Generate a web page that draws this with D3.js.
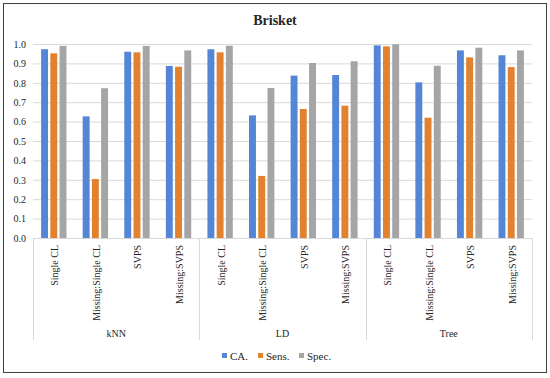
<!DOCTYPE html>
<html>
<head>
<meta charset="utf-8">
<script src="https://cdn.jsdelivr.net/npm/d3@7"></script>
<style>
  body { margin: 0; background: #fff; }
  svg text { font-family: "Liberation Serif", "DejaVu Serif", serif !important; fill: #262626; }
</style>
</head>
<body>
<script>
// data
const groups = ['kNN', 'LD', 'Tree'];
const subCategories = ['Single CL', 'Missing:Single CL', 'SVPS', 'Missing:SVPS'];
const seriesNames = ['CA.', 'Sens.', 'Spec.'];
const caValues   = [0.973, 0.627, 0.960, 0.887, 0.973, 0.632, 0.837, 0.840, 0.993, 0.802, 0.967, 0.942];
const sensValues = [0.952, 0.304, 0.957, 0.883, 0.957, 0.320, 0.665, 0.682, 0.988, 0.620, 0.931, 0.881];
const specValues = [0.990, 0.772, 0.990, 0.967, 0.991, 0.773, 0.902, 0.911, 0.998, 0.888, 0.981, 0.967];
const yTicks = [0, 0.1, 0.2, 0.3, 0.4, 0.5, 0.6, 0.7, 0.8, 0.9, 1.0];

const colors = ['#5585d5', '#e2822f', '#a5a5a5'];

const SCREEN = { width: 550, height: 378, left: 33, right: 532, top: 44, bottom: 238 };

const svg = d3.select('body').append('svg')
    .attr('width', SCREEN.width)
    .attr('height', SCREEN.height);

// outer frame
svg.append('rect')
    .attr('x', 3.5).attr('y', 3.5)
    .attr('width', 543).attr('height', 369)
    .attr('fill', 'none')
    .attr('stroke', '#404040')
    .attr('stroke-width', 1);

svg.append('text')
    .attr('x', 275)
    .attr('y', 25)
    .attr('text-anchor', 'middle')
    .style('font-size', '14px')
    .style('font-weight', 'bold')
    .text('Brisket');

// one row per bar group
const keys = [];
groups.forEach(g => subCategories.forEach(s => keys.push(g + '|' + s)));
const rows = keys.map((k, i) => ({ key: k, sub: k.split('|')[1], values: [caValues[i], sensValues[i], specValues[i]] }));

const x0 = d3.scaleBand()
    .domain(keys)
    .range([SCREEN.left, SCREEN.right])
    .paddingInner(0.39)
    .paddingOuter(0.195);

const x1 = d3.scaleBand()
    .domain(seriesNames)
    .range([0, x0.bandwidth()])
    .paddingInner(0.25);

const y = d3.scaleLinear()
    .domain([0, 1])
    .range([SCREEN.bottom, SCREEN.top]);

// gridlines + y labels
const yAxis = d3.axisLeft(y)
    .tickValues(yTicks)
    .tickFormat(d3.format('.1f'))
    .tickSize(-(SCREEN.right - SCREEN.left))
    .tickPadding(7);

const yAxisGroup = svg.append('g')
    .attr('transform', `translate(${SCREEN.left},0)`)
    .call(yAxis)
    .attr('font-family', null)
    .attr('font-size', null);
yAxisGroup.select('.domain').remove();
yAxisGroup.selectAll('line').attr('stroke', '#d9d9d9');
yAxisGroup.selectAll('text')
    .style('font-size', '10px')
    .attr('fill', '#262626');

// bars
const barGroups = svg.append('g').selectAll('g')
    .data(rows)
    .join('g')
    .attr('transform', d => `translate(${x0(d.key)},0)`);

barGroups.selectAll('rect')
    .data(d => d.values.map((v, i) => ({ name: seriesNames[i], value: v, idx: i })))
    .join('rect')
    .attr('x', d => x1(d.name))
    .attr('width', x1.bandwidth())
    .attr('y', d => y(d.value))
    .attr('height', d => y(0) - y(d.value))
    .attr('fill', d => colors[d.idx]);

// category axis
const catGroup = svg.append('g');
catGroup.append('line')
    .attr('x1', SCREEN.left).attr('x2', SCREEN.right)
    .attr('y1', SCREEN.bottom + 0.5).attr('y2', SCREEN.bottom + 0.5)
    .attr('stroke', '#d9d9d9');

catGroup.selectAll('text.sub')
    .data(rows)
    .join('text')
    .attr('class', 'sub')
    .attr('transform', d => `translate(${x0(d.key) + x0.bandwidth() / 2 + 1},245) rotate(-90)`)
    .attr('text-anchor', 'end')
    .attr('dy', '0.35em')
    .style('font-size', '10px')
    .text(d => d.sub);

const step = x0.step();
const groupEdges = d3.range(groups.length + 1).map(i => SCREEN.left + i * step * subCategories.length);

catGroup.selectAll('line.sep')
    .data(groupEdges)
    .join('line')
    .attr('class', 'sep')
    .attr('x1', d => Math.round(d) + 0.5).attr('x2', d => Math.round(d) + 0.5)
    .attr('y1', SCREEN.bottom).attr('y2', 340)
    .attr('stroke', '#d9d9d9');

catGroup.selectAll('text.grp')
    .data(groups)
    .join('text')
    .attr('class', 'grp')
    .attr('x', (d, i) => (groupEdges[i] + groupEdges[i + 1]) / 2)
    .attr('y', 337)
    .attr('text-anchor', 'middle')
    .style('font-size', '10px')
    .text(d => d);

// legend
const legendX = [222, 258, 299];
const legend = svg.append('g').selectAll('g')
    .data(seriesNames)
    .join('g')
    .attr('transform', (d, i) => `translate(${legendX[i]},356)`);

legend.append('rect')
    .attr('x', 0).attr('y', -3)
    .attr('width', 5).attr('height', 5)
    .attr('fill', (d, i) => colors[i]);

legend.append('text')
    .attr('x', 8)
    .attr('y', 4)
    .style('font-size', '11px')
    .text(d => d);
</script>
</body>
</html>
